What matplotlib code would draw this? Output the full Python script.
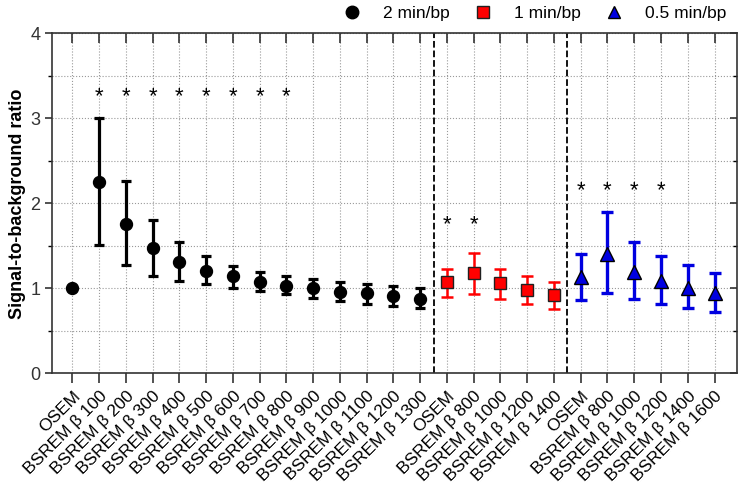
import matplotlib.pyplot as plt
import numpy as np
from matplotlib.lines import Line2D
from matplotlib.ticker import MultipleLocator

plt.rcParams['font.family'] = ['Liberation Sans', 'DejaVu Sans']

# 2 min/bp
black_labels = ['OSEM', 'BSREM β 100', 'BSREM β 200', 'BSREM β 300', 'BSREM β 400',
                'BSREM β 500', 'BSREM β 600', 'BSREM β 700', 'BSREM β 800',
                'BSREM β 900', 'BSREM β 1000', 'BSREM β 1100', 'BSREM β 1200',
                'BSREM β 1300']
black_mean = [1.00, 2.25, 1.76, 1.48, 1.31, 1.21, 1.14, 1.08, 1.03, 1.00, 0.96, 0.94, 0.91, 0.88]
black_hi = [1.00, 3.00, 2.26, 1.81, 1.545, 1.38, 1.26, 1.19, 1.145, 1.105, 1.07, 1.05, 1.03, 1.00]
black_lo = [1.00, 1.51, 1.27, 1.15, 1.09, 1.05, 1.01, 0.97, 0.93, 0.885, 0.85, 0.82, 0.79, 0.765]

# 1 min/bp
red_labels = ['OSEM', 'BSREM β 800', 'BSREM β 1000', 'BSREM β 1200', 'BSREM β 1400']
red_mean = [1.07, 1.18, 1.06, 0.98, 0.92]
red_hi = [1.23, 1.42, 1.23, 1.15, 1.07]
red_lo = [0.90, 0.93, 0.87, 0.815, 0.76]

# 0.5 min/bp
blue_labels = ['OSEM', 'BSREM β 800', 'BSREM β 1000', 'BSREM β 1200', 'BSREM β 1400',
               'BSREM β 1600']
blue_mean = [1.13, 1.40, 1.195, 1.09, 1.00, 0.94]
blue_hi = [1.41, 1.90, 1.54, 1.38, 1.27, 1.18]
blue_lo = [0.86, 0.95, 0.88, 0.815, 0.765, 0.725]

# significance stars: which points of each group, and the height of the star row
black_star_idx = [1, 2, 3, 4, 5, 6, 7, 8]
red_star_idx = [0, 1]
blue_star_idx = [0, 1, 2, 3]
star_y = [3.29, 1.78, 2.19]

fig = plt.figure(figsize=(7.4, 4.9), dpi=100)
ax = fig.add_axes([0.0703, 0.238, 0.926, 0.694])

xb = np.arange(len(black_labels))
xr = np.arange(len(red_labels)) + len(black_labels)
xu = np.arange(len(blue_labels)) + len(black_labels) + len(red_labels)


def err(mean, lo, hi):
    mean = np.array(mean)
    return [mean - np.array(lo), np.array(hi) - mean]


# OSEM of first group has no error bar
ax.errorbar(xb[1:], black_mean[1:], yerr=[e[1:] for e in err(black_mean, black_lo, black_hi)],
            fmt='none', ecolor='black', elinewidth=2.3, capsize=3.8, capthick=2.3, zorder=3)
ax.plot(xb, black_mean, 'o', color='black', markersize=8.6, zorder=4)

ax.errorbar(xr, red_mean, yerr=err(red_mean, red_lo, red_hi),
            fmt='none', ecolor='#ff0000', elinewidth=1.8, capsize=4, capthick=1.8, zorder=3)
ax.plot(xr, red_mean, 's', color='#ff0000', markeredgecolor='#202020',
        markeredgewidth=1.0, markersize=8.5, zorder=4)

ax.errorbar(xu, blue_mean, yerr=err(blue_mean, blue_lo, blue_hi),
            fmt='none', ecolor='#0000e0', elinewidth=2.4, capsize=4, capthick=2.4, zorder=3)
ax.plot(xu, blue_mean, '^', color='#0000e0', markeredgecolor='black',
        markeredgewidth=1.0, markersize=9.5, zorder=4)

# asterisk glyph sits above the baseline, shift it down so its centre lands on star_y
for xs, idx, y in zip([xb, xr, xu], [black_star_idx, red_star_idx, blue_star_idx], star_y):
    for i in idx:
        ax.text(xs[i], y - 0.1, '*', ha='center', va='baseline', fontsize=16)

ax.axvline(len(black_labels) - 0.5, color='black', ls='--', lw=1.3, zorder=2)
ax.axvline(len(black_labels) + len(red_labels) - 0.5, color='black', ls='--', lw=1.3, zorder=2)

labels = black_labels + red_labels + blue_labels
ax.set_xticks(np.arange(len(labels)))
ax.set_xticklabels(labels, rotation=45, ha='right', rotation_mode='anchor', fontsize=12.5)
ax.set_xlim(-0.76, 24.85)
ax.set_ylim(0, 4)
ax.yaxis.set_major_locator(MultipleLocator(1))
ax.yaxis.set_minor_locator(MultipleLocator(0.5))
ax.tick_params(axis='y', labelsize=13, colors='#333333', labelcolor='#333333')
ax.tick_params(axis='x', colors='#333333', labelcolor='black', pad=4)
ax.tick_params(axis='x', which='major', direction='out', length=7, width=1.2, top=True)
ax.tick_params(axis='y', which='major', direction='out', length=5, width=1.2, right=True)
ax.tick_params(axis='y', which='minor', direction='out', length=3, width=1.0, right=True)
for t in ax.xaxis.get_major_ticks():
    t.tick2line.set_marker(3)  # top ticks point inward
for t in ax.yaxis.get_major_ticks() + ax.yaxis.get_minor_ticks():
    t.tick2line.set_marker(0)  # right ticks point inward
ax.grid(True, which='both', color='#9a9a9a', ls=':', lw=0.8, zorder=0)
ax.set_axisbelow(True)
for s in ax.spines.values():
    s.set_color('#333333')
    s.set_linewidth(1.2)

ax.set_ylabel('Signal-to-background ratio', fontsize=13, fontweight='bold', labelpad=3)

handles = [Line2D([], [], marker='o', color='black', ls='none', markersize=9),
           Line2D([], [], marker='s', color='#ff0000', markeredgecolor='#202020', ls='none', markersize=8.5),
           Line2D([], [], marker='^', color='#0000e0', markeredgecolor='black', ls='none', markersize=9)]
fig.legend(handles, ['2 min/bp', '1 min/bp', '0.5 min/bp'], loc='center right',
           bbox_to_anchor=(0.998, 0.972), ncol=3, frameon=False, fontsize=12.5,
           handletextpad=0.8, columnspacing=0.9, borderpad=0.2)

fig.savefig('out.png', dpi=100)
